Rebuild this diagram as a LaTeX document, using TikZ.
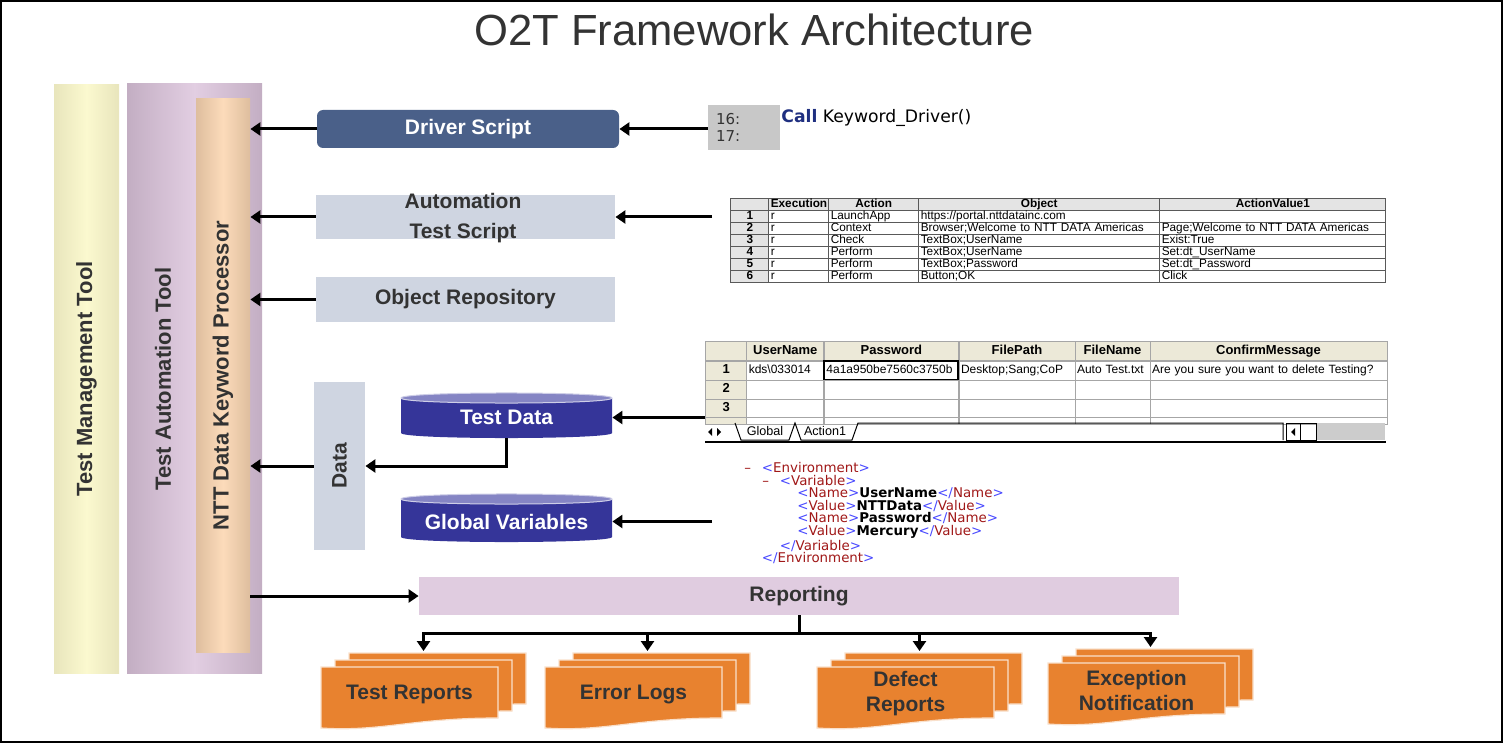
\documentclass[tikz,border=0pt]{standalone}
\usepackage{fontspec}
\setmainfont{Liberation Sans}
\newfontfamily\xmlfont{DejaVu Sans}
\usepackage{graphicx}
\usetikzlibrary{arrows.meta}
\usetikzlibrary{positioning}
\usetikzlibrary{matrix}
\usetikzlibrary{calc}

\definecolor{tmtside}{HTML}{E8E5BC}
\definecolor{tmtmid}{HTML}{FBF9CF}
\definecolor{tatside}{HTML}{C3AEC3}
\definecolor{tatmid}{HTML}{E2CEE2}
\definecolor{nttside}{HTML}{DEBE9E}
\definecolor{nttmid}{HTML}{FCDBBA}
\definecolor{dsblue}{HTML}{4A6089}
\definecolor{boxgray}{HTML}{CFD5E1}
\definecolor{dbbody}{HTML}{353599}
\definecolor{dbtop}{HTML}{8585C4}
\definecolor{repfill}{HTML}{E0CCE0}
\definecolor{docorange}{HTML}{E8822F}
\definecolor{txtdark}{HTML}{333333}
\definecolor{codegray}{HTML}{C8C8C8}
\definecolor{codeblue}{HTML}{1F2F80}
\definecolor{hdgray}{HTML}{E4E4E4}
\definecolor{xpgray}{HTML}{ECE9D8}
\definecolor{xmlblue}{HTML}{4848FF}
\definecolor{xmlred}{HTML}{A01818}

\tikzset{basic box/.style={inner sep=0pt,
                           align=center,
                           text=txtdark,
                           font=\bfseries\fontsize{10.5}{12.6}\selectfont}}
\tikzset{bar/.style={basic box,font=\bfseries\fontsize{11}{13}\selectfont}}
\tikzset{link/.style={draw,
                      line width=1.5pt,
                      -{Triangle[length=5pt,width=6.5pt]}}}
\tikzset{page/.style={fill=docorange,draw=white!75!docorange,line width=0.6pt}}
\tikzset{cell/.style={draw=black!65,line width=0.4pt,inner xsep=1pt,inner ysep=0pt,align=left}}
\tikzset{sheet cell/.style={cell,draw=black!35}}

\newcommand{\xmlopen}[1]{\textcolor{xmlblue}{<}\textcolor{xmlred}{#1}\textcolor{xmlblue}{>}}
\newcommand{\xmlclose}[1]{\textcolor{xmlblue}{</}\textcolor{xmlred}{#1}\textcolor{xmlblue}{>}}
\newcommand{\xmldash}{\makebox[8.75pt][l]{\textcolor{xmlred}{–}}}
\newcommand{\docstack}[4]{%
  \foreach \o in {28,14,0}
    \path[page] (#2+\o,#3-\o/2) -- ++(177,0) -- ++(0,51)
      .. controls +(-87,0) and +(60,4) .. ++(-177,10) -- cycle;
  \coordinate (#1) at (#2+102.5,#3-16);
  \node[doc text] (#1text) at (#2+88.5,#3+27) {#4};
}

\begin{document}
\begin{tikzpicture}
    [
      x=0.5pt,y=-0.5pt,
      doc text/.style={basic box,font=\bfseries\fontsize{10.5}{12.5}\selectfont},
      light box/.style={basic box,fill=boxgray,minimum width=149.5pt},
    ]
    \useasboundingbox (0,0) rectangle (1503,743);
    \draw [line width=0.75pt] (1,1) rectangle (1502,742);

    \node [font=\fontsize{21.8}{26}\selectfont,text=txtdark] (title) at (754,30) {O2T Framework Architecture};

    % tool bars
    \node [bar,minimum width=32.5pt,minimum height=294pt,
      left color=tmtside,right color=tmtside,middle color=tmtmid] (TMT) at (86.5,379)
      {\rotatebox{90}{Test Management Tool}};
    \node [bar,minimum width=67.5pt,minimum height=294.5pt,
      left color=tatside,right color=tatside,middle color=tatmid] (TAT) at (194.5,378.5) {};
    \node [bar] (TATtext) at (163,379) {\rotatebox{90}{Test Automation Tool}};
    \node [bar,minimum width=27pt,minimum height=276.5pt,
      left color=nttside,right color=nttside,middle color=nttmid] (NTT) at (223,375.5)
      {\rotatebox{90}{NTT Data Keyword Processor}};

    % script boxes
    \node [basic box,fill=dsblue,text=white,rounded corners=3pt,
      minimum width=151pt,minimum height=19pt] (DS) at (468,129) {Driver Script};
    \node [light box,minimum height=22pt] (ATS) at (465.5,217) {};
    \node [basic box,font=\bfseries\fontsize{10.5}{15}\selectfont] (ATStext) at (463,218) {Automation\\Test Script};
    \node [light box,minimum height=22.5pt] (OR) at (465.5,299.5) {Object Repository};
    \node [basic box,fill=boxgray,minimum width=25.5pt,minimum height=84pt] (DA) at (339.5,466) {\rotatebox{90}{Data}};

    % data stores
    \foreach \nm/\tp/\bt/\cy/\lb in {TD/398/433/417.5/Test Data,GV/499/537/521.5/Global Variables}
    {
    \fill [dbbody] (401,\tp) -- (401,\bt) .. controls (401,\bt+6.7) and (612,\bt+6.7) .. (612,\bt) -- (612,\tp) -- cycle;
    \filldraw [fill=dbtop,draw=white!60!dbtop,line width=0.5pt] (401,\tp)
      .. controls (401,\tp-6.7) and (612,\tp-6.7) .. (612,\tp)
      .. controls (612,\tp+6.7) and (401,\tp+6.7) .. (401,\tp) -- cycle;
    \node [basic box,text=white,minimum width=105.5pt,minimum height=20.5pt] (\nm) at (506.5,\cy) {\lb};
    }

    % reporting
    \node [basic box,fill=repfill,minimum width=380pt,minimum height=19pt] (Rep) at (799,596) {Reporting};
    \docstack{TR}{321}{667}{Test Reports}
    \docstack{EL}{545}{667}{Error Logs}
    \docstack{DR}{817}{667}{Defect\\Reports}
    \docstack{EN}{1048}{663}{Exception\\Notification}

    % code line
    \node [basic box,fill=codegray,minimum width=36pt,minimum height=22.5pt,text width=28pt,
      align=left,font=\xmlfont\fontsize{7.5}{8.5}\selectfont] (CB) at (744,127.5) {16:\\17:};
    \node [anchor=west,inner sep=0pt,font=\xmlfont\fontsize{8.6}{10}\selectfont] (CT) at (781,118)
      {\textcolor{codeblue}{\textbf{Call}} Keyword\_Driver()};

    % keyword table
    \matrix (T1) [matrix of nodes,anchor=north west,inner sep=0pt,
      row sep=-0.4pt,column sep=-0.4pt,nodes in empty cells,
      nodes={cell,font=\fontsize{5.9}{6}\selectfont,text height=4.1pt,text depth=1.2pt,minimum height=6pt},
      column 1/.style={nodes={text width=17pt,align=center,fill=hdgray,font=\bfseries\fontsize{5.9}{6}\selectfont}},
      column 2/.style={nodes={text width=28pt}},
      column 3/.style={nodes={text width=43pt}},
      column 4/.style={nodes={text width=118.5pt}},
      column 5/.style={nodes={text width=111pt}},
      row 1/.style={nodes={fill=hdgray,align=center,font=\bfseries\fontsize{5.9}{6}\selectfont}}]
      at (730,198)
    {
      & Execution & Action & Object & ActionValue1 \\
      1 & r & LaunchApp & https://portal.nttdatainc.com & \\
      2 & r & Context & Browser;Welcome to NTT DATA Americas & Page;Welcome to NTT DATA Americas \\
      3 & r & Check & TextBox;UserName & Exist:True \\
      4 & r & Perform & TextBox;UserName & Set:dt\_UserName \\
      5 & r & Perform & TextBox;Password & Set:dt\_Password \\
      6 & r & Perform & Button;OK & Click \\
    };

    % data sheet
    \matrix (T2) [matrix of nodes,anchor=north west,inner sep=0pt,
      row sep=-0.4pt,column sep=-0.4pt,nodes in empty cells,
      nodes={sheet cell,font=\fontsize{6}{7}\selectfont,text height=4.6pt,text depth=1.4pt,minimum height=9.25pt},
      column 1/.style={nodes={text width=18.5pt,align=center,fill=xpgray,font=\bfseries\fontsize{6.5}{7}\selectfont}},
      column 2/.style={nodes={text width=36.5pt}},
      column 3/.style={nodes={text width=65pt}},
      column 4/.style={nodes={text width=56pt}},
      column 5/.style={nodes={text width=35.5pt}},
      column 6/.style={nodes={text width=116.5pt}},
      row 1/.style={nodes={fill=xpgray,align=center,minimum height=9.5pt,font=\bfseries\fontsize{6.5}{7}\selectfont}},
      row 5/.style={nodes={minimum height=3.5pt,text height=0pt,text depth=0pt}}]
      at (705,341)
    {
      & UserName & Password & FilePath & FileName & ConfirmMessage \\
      1 & kds\textbackslash 033014 & |[line width=1pt,draw=black]| 4a1a950be7560c3750b & Desktop;Sang;CoP & Auto Test.txt & Are you sure you want to delete Testing? \\
      2 & & & & & \\
      3 & & & & & \\
      & & & & & \\
    };

    % sheet tabs
    \node [anchor=north west,minimum width=340pt,minimum height=9.5pt,inner sep=0pt] (TB) at (705,422) {};
    \draw [line width=1pt] (TB.south west) -- (TB.south east);
    \draw [line width=0.5pt] (735,423) -- (741,440) -- (789,440) -- (795,423) -- (801,440) -- (852,440) -- (858,423) -- (1283,423) -- (1283,440);
    \draw [line width=0.5pt] (1286,423) rectangle (1300,440) (1300,423) rectangle (1316,440);
    \fill [black!20] (1317,423) rectangle (1385,440);
    \fill (712,428) -- (712,436) -- (708,432) -- cycle;
    \fill (717,428) -- (717,436) -- (721,432) -- cycle;
    \fill (1295,428) -- (1295,436) -- (1291,432) -- cycle;
    \node [font=\fontsize{6.3}{7}\selectfont,inner sep=0pt] (tabG) at (765,431) {Global};
    \node [font=\fontsize{6.3}{7}\selectfont,inner sep=0pt] (tabA) at (825,431) {Action1};

    % xml
    \node [anchor=north west,inner sep=0pt,align=left,
      font=\xmlfont\fontsize{6.7}{6.25}\selectfont] (XM) at (744,462)
    {
      \xmldash\xmlopen{Environment}\\
      \hspace*{9pt}\xmldash\xmlopen{Variable}\\
      \hspace*{26.5pt}\xmlopen{Name}\textbf{UserName}\xmlclose{Name}\\
      \hspace*{26.5pt}\xmlopen{Value}\textbf{NTTData}\xmlclose{Value}\\
      \hspace*{26.5pt}\xmlopen{Name}\textbf{Password}\xmlclose{Name}\\
      \hspace*{26.5pt}\xmlopen{Value}\textbf{Mercury}\xmlclose{Value}\\
      \hspace*{17.75pt}\xmlclose{Variable}\\
      \hspace*{8.75pt}\xmlclose{Environment}
    };

    % edges
    \draw [link] (CB.west |- DS.east) -- (DS.east);
    \draw [link] ($(T1.west |- ATS.east)+(-18,0)$) -- (ATS.east);
    \draw [link] (T2.west |- TD.east) -- (TD.east);
    \draw [link] ($(XM.west |- GV.east)+(-32,0)$) -- (GV.east);
    \draw [link] (TD.south) |- (DA.east);
    \foreach \s in {DS,ATS,OR,DA}
      \draw [link] (\s.west) -- (\s.west -| NTT.east);
    \draw [link] (Rep.west -| NTT.east) -- (Rep.west);

    % outgoing edges
    \draw [line width=1.5pt] (Rep.south) -- ++(0,18) coordinate (fan);
    \foreach \d in {TR,EL,DR,EN}
      \draw [link] (fan) -| (\d);

  \end{tikzpicture}
\end{document}
